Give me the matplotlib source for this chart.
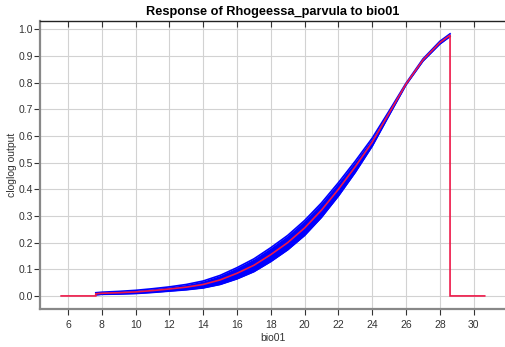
import numpy as np
import matplotlib.pyplot as plt

plt.rcParams['font.family'] = ['Liberation Sans', 'DejaVu Sans']

# mean response of bio01 and its spread over replicates
bio01 = [7.65, 8, 9, 10, 11, 12, 13, 14, 15, 16, 17, 18, 19, 20,
         21, 22, 23, 24, 25, 26, 27, 28, 28.6]
mean_out = [0.008, 0.010, 0.012, 0.015, 0.020, 0.026, 0.033, 0.043, 0.060,
            0.085, 0.115, 0.155, 0.200, 0.255, 0.322, 0.400, 0.485, 0.577,
            0.686, 0.795, 0.885, 0.950, 0.978]
sd_out = [0.004, 0.004, 0.005, 0.006, 0.007, 0.008, 0.010, 0.013, 0.017,
          0.021, 0.024, 0.026, 0.027, 0.028, 0.027, 0.025, 0.021, 0.015,
          0.008, 0.003, 0.004, 0.005, 0.005]

# flat zero stretches outside the sampled range
lo_x = [5.6, 7.65]
hi_x = [28.6, 30.65]

title = "Response of Rhogeessa_parvula to bio01"
xticks = list(range(6, 31, 2))
yticks = [round(0.1 * i, 1) for i in range(11)]

x = np.array(bio01)
m = np.array(mean_out)
s = np.array(sd_out)

fig = plt.figure(figsize=(5.05, 3.47), dpi=100)
ax = fig.add_axes([40 / 505, 38 / 347, 465 / 505, 288 / 347])

ax.fill_between(x, m - s, m + s, color='#0000ff', lw=0, zorder=2)
ax.plot(x, m - s, color='#0000ff', lw=1.2, zorder=2)
ax.plot(x, m + s, color='#0000ff', lw=1.2, zorder=2)

line_x = lo_x + bio01 + hi_x
line_y = [0, 0] + mean_out + [0, 0]
ax.plot(line_x, line_y, color='#ee1848', lw=1.2, zorder=3,
        solid_joinstyle='miter')

ax.set_xlim(4.35, 31.85)
ax.set_ylim(-0.049, 1.031)
ax.set_xticks(xticks)
ax.set_yticks(yticks)
ax.set_yticklabels([f"{v:.1f}" for v in yticks])
ax.grid(True, color='#d2d2d2', lw=0.8)
ax.set_axisbelow(True)

for side in ['left', 'bottom']:
    ax.spines[side].set_color('#888888')
    ax.spines[side].set_linewidth(1.6)
ax.spines['top'].set_color('#222222')
ax.spines['top'].set_linewidth(1.0)
ax.spines['right'].set_visible(False)

ax.tick_params(axis='both', labelsize=7.5, colors='#333333', length=4,
               width=0.8, pad=1)
ax.tick_params(axis='x', top=True, pad=4)
ax.tick_params(axis='x', which='both', labeltop=False)
for t in ax.xaxis.get_major_ticks():
    t.tick2line.set_marker(3)

ax.set_title(title, fontsize=9.2, fontweight='bold', pad=4)
ax.set_xlabel("bio01", fontsize=7.5, color='#333333', labelpad=2)
ax.set_ylabel("cloglog output", fontsize=7.5, color='#333333', labelpad=1)

fig.savefig("out.png", dpi=100)
